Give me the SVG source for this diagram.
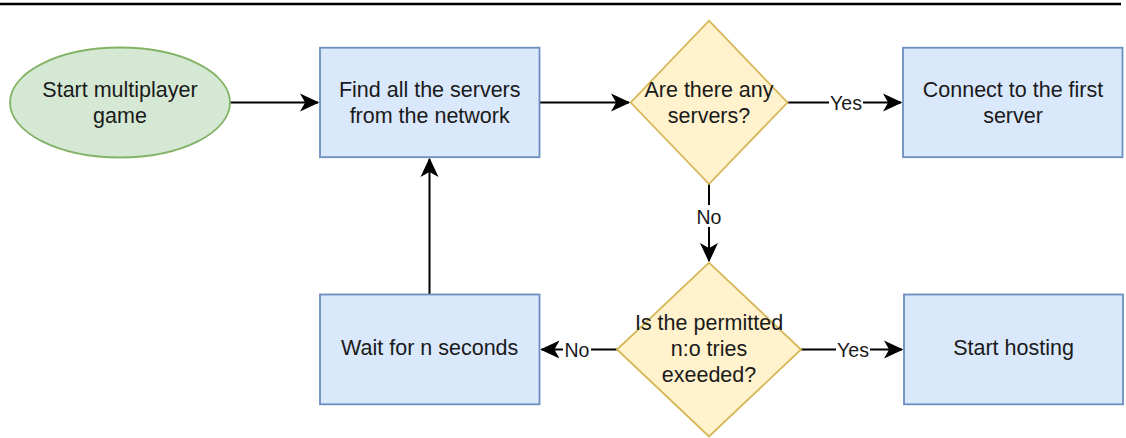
<svg xmlns="http://www.w3.org/2000/svg" width="1126" height="438" viewBox="0 0 1126 438">
<style>
.rect{fill:#dae8fc;stroke:#6c8ebf;stroke-width:1.8}
.ell{fill:#d5e8d4;stroke:#82b366;stroke-width:1.8}
.dia{fill:#fff2cc;stroke:#d6b656;stroke-width:1.8}
.t{font-family:"Liberation Sans",Arial,Helvetica,sans-serif;font-size:21.5px;fill:#1a1a1a;text-anchor:middle}
.lbl{font-family:"Liberation Sans",Arial,Helvetica,sans-serif;font-size:19.5px;fill:#1a1a1a;text-anchor:middle}
.edge{fill:none;stroke:#000;stroke-width:2}
.lblbg{fill:#fff}
</style>
<defs>
<marker id="arr" markerUnits="userSpaceOnUse" markerWidth="20" markerHeight="20" viewBox="-16 -8 18 16" refX="0" refY="0" orient="auto">
<path d="M-15,-7 L0,0 L-15,7 L-11,0 Z" fill="#000" stroke="#000" stroke-width="1"/>
</marker>
</defs>
<line x1="0" y1="4" x2="1121" y2="4" stroke="#000" stroke-width="2.6"/>
<g id="connectors">
<path class="edge" d="M230,102.5 L318,102.5" marker-end="url(#arr)"/>
<path class="edge" d="M539.5,102.5 L629,102.5" marker-end="url(#arr)"/>
<path class="edge" d="M787.5,102.5 L901,102.5" marker-end="url(#arr)"/>
<path class="edge" d="M709,184 L709,261" marker-end="url(#arr)"/>
<path class="edge" d="M617,349.5 L541.5,349.5" marker-end="url(#arr)"/>
<path class="edge" d="M801,349.5 L902,349.5" marker-end="url(#arr)"/>
<path class="edge" d="M429.5,294.5 L429.5,159" marker-end="url(#arr)"/>
<rect class="lblbg" x="829" y="92" width="34" height="21"/>
<text class="lbl" x="846" y="109.5">Yes</text>
<rect class="lblbg" x="695" y="205" width="28" height="22"/>
<text class="lbl" x="709" y="223.5">No</text>
<rect class="lblbg" x="563" y="339" width="28" height="21"/>
<text class="lbl" x="577" y="356.5">No</text>
<rect class="lblbg" x="836" y="339" width="34" height="21"/>
<text class="lbl" x="853" y="356.5">Yes</text>
</g>
<g id="start">
<ellipse class="ell" cx="120" cy="102.5" rx="110" ry="55"/>
<text class="t" x="120" y="97">Start multiplayer</text>
<text class="t" x="120" y="123">game</text>
</g>
<g id="find">
<rect class="rect" x="320" y="47.7" width="219.5" height="109.5"/>
<text class="t" x="429.7" y="97">Find all the servers</text>
<text class="t" x="429.7" y="123">from the network</text>
</g>
<g id="any-servers">
<polygon class="dia" points="709,20.7 787.5,102.5 709,184 630.7,102.5"/>
<text class="t" x="709" y="97">Are there any</text>
<text class="t" x="709" y="123">servers?</text>
</g>
<g id="connect">
<rect class="rect" x="903" y="47.7" width="219.5" height="109.5"/>
<text class="t" x="1013" y="97">Connect to the first</text>
<text class="t" x="1013" y="123">server</text>
</g>
<g id="tries-exceeded">
<polygon class="dia" points="709,262.7 801,349.5 709,436.5 617,349.5"/>
<text class="t" x="709" y="330">Is the permitted</text>
<text class="t" x="709" y="355.5">n:o tries</text>
<text class="t" x="709" y="381.5">exeeded?</text>
</g>
<g id="wait">
<rect class="rect" x="320" y="294.5" width="219.5" height="109.8"/>
<text class="t" x="429.7" y="354.5">Wait for n seconds</text>
</g>
<g id="hosting">
<rect class="rect" x="904" y="294.5" width="219" height="109.8"/>
<text class="t" x="1013.5" y="354.5">Start hosting</text>
</g>
</svg>
